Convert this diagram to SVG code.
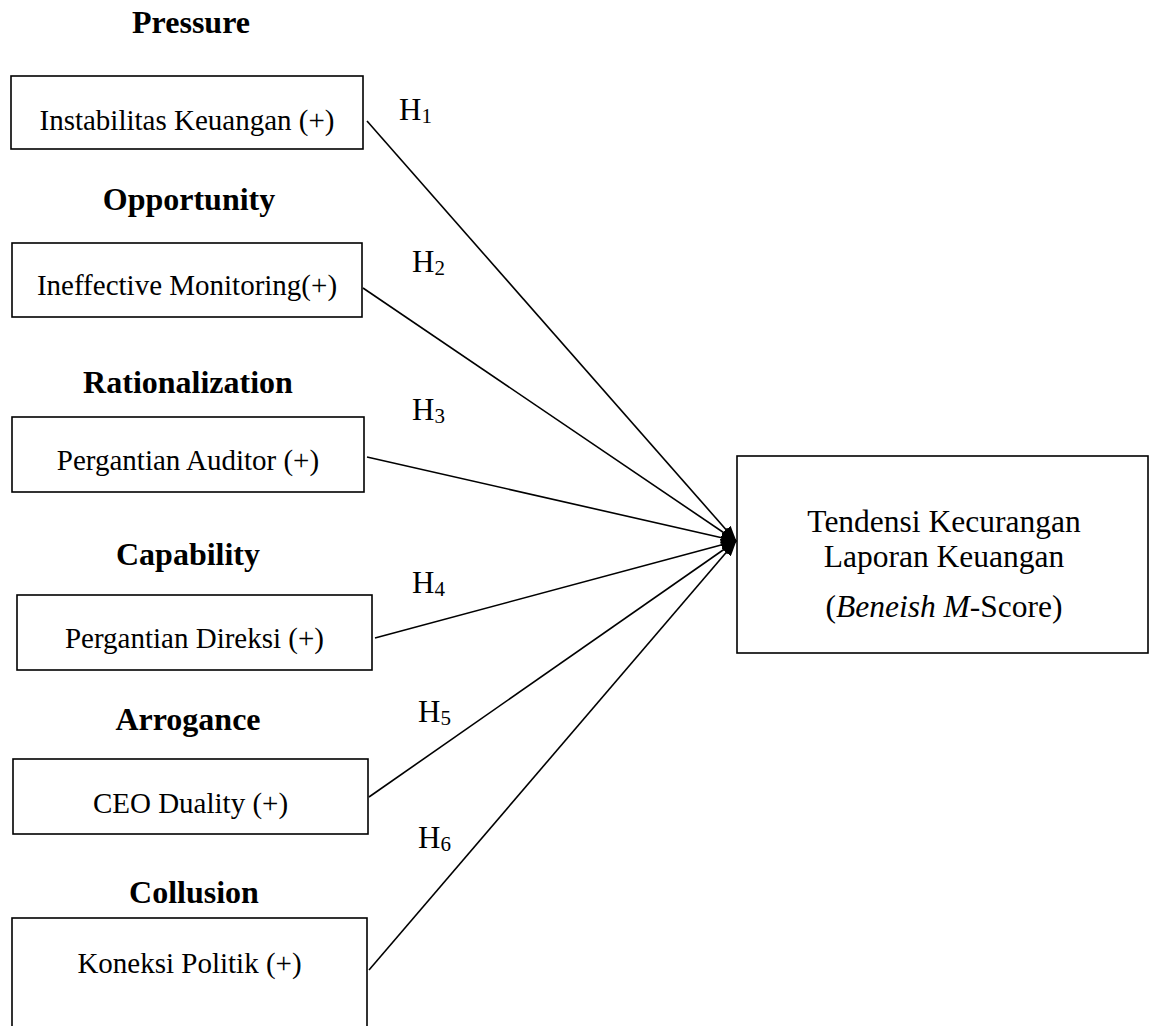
<svg xmlns="http://www.w3.org/2000/svg" width="1149" height="1026" viewBox="0 0 1149 1026">
<style>
.box{fill:#fff;stroke:#000;stroke-width:1.6}
.t{font-family:"Liberation Serif","Times New Roman",serif;font-size:29px;fill:#000;text-anchor:middle}
.h{font-family:"Liberation Serif","Times New Roman",serif;font-size:32px;font-weight:bold;fill:#000;text-anchor:middle}
.r{font-family:"Liberation Serif","Times New Roman",serif;font-size:31.5px;fill:#000;text-anchor:middle}
.lab{font-family:"Liberation Serif","Times New Roman",serif;font-size:31px;fill:#000}
.sub{font-size:21px}
.c{stroke:#000;stroke-width:1.6;fill:none;marker-end:url(#ah)}
</style>
<defs>
<marker id="ah" markerUnits="userSpaceOnUse" markerWidth="16" markerHeight="12" refX="15" refY="6" orient="auto">
<path d="M0,0 L16,6 L0,12 z" fill="#000"/>
</marker>
</defs>
<rect width="1149" height="1026" fill="#fff"/>
<g id="connectors">
<line class="c" x1="367" y1="121" x2="736" y2="541"/>
<line class="c" x1="363" y1="288" x2="736" y2="541"/>
<line class="c" x1="367" y1="457" x2="736" y2="541"/>
<line class="c" x1="375" y1="638" x2="736" y2="541"/>
<line class="c" x1="369" y1="797" x2="736" y2="541"/>
<line class="c" x1="369" y1="970" x2="736" y2="541"/>
</g>
<g id="labels">
<text class="lab" x="399" y="120">H<tspan class="sub" dy="3">1</tspan></text>
<text class="lab" x="412" y="272">H<tspan class="sub" dy="3">2</tspan></text>
<text class="lab" x="412" y="420">H<tspan class="sub" dy="3">3</tspan></text>
<text class="lab" x="412" y="593">H<tspan class="sub" dy="3">4</tspan></text>
<text class="lab" x="418" y="722">H<tspan class="sub" dy="3">5</tspan></text>
<text class="lab" x="418" y="848">H<tspan class="sub" dy="3">6</tspan></text>
</g>
<g id="pressure">
<text class="h" x="191" y="33">Pressure</text>
<rect class="box" x="11" y="76" width="352" height="73"/>
<text class="t" x="187" y="130">Instabilitas Keuangan (+)</text>
</g>
<g id="opportunity">
<text class="h" x="189" y="210">Opportunity</text>
<rect class="box" x="12" y="243" width="350" height="74"/>
<text class="t" x="187" y="295">Ineffective Monitoring(+)</text>
</g>
<g id="rationalization">
<text class="h" x="188" y="393">Rationalization</text>
<rect class="box" x="12" y="417" width="352" height="75"/>
<text class="t" x="188" y="470">Pergantian Auditor (+)</text>
</g>
<g id="capability">
<text class="h" x="188" y="565">Capability</text>
<rect class="box" x="17" y="595" width="355" height="75"/>
<text class="t" x="194.5" y="648">Pergantian Direksi (+)</text>
</g>
<g id="arrogance">
<text class="h" x="188" y="730">Arrogance</text>
<rect class="box" x="13" y="759" width="355" height="75"/>
<text class="t" x="190.5" y="813">CEO Duality (+)</text>
</g>
<g id="collusion">
<text class="h" x="194" y="903">Collusion</text>
<rect class="box" x="12" y="918" width="355" height="130"/>
<text class="t" x="189.5" y="973">Koneksi Politik (+)</text>
</g>
<g id="tendensi">
<rect class="box" x="737" y="456" width="411" height="197"/>
<text class="r" x="944" y="532">Tendensi Kecurangan</text>
<text class="r" x="944" y="567">Laporan Keuangan</text>
<text class="r" x="944" y="617">(<tspan font-style="italic">Beneish M</tspan>-Score)</text>
</g>
</svg>
